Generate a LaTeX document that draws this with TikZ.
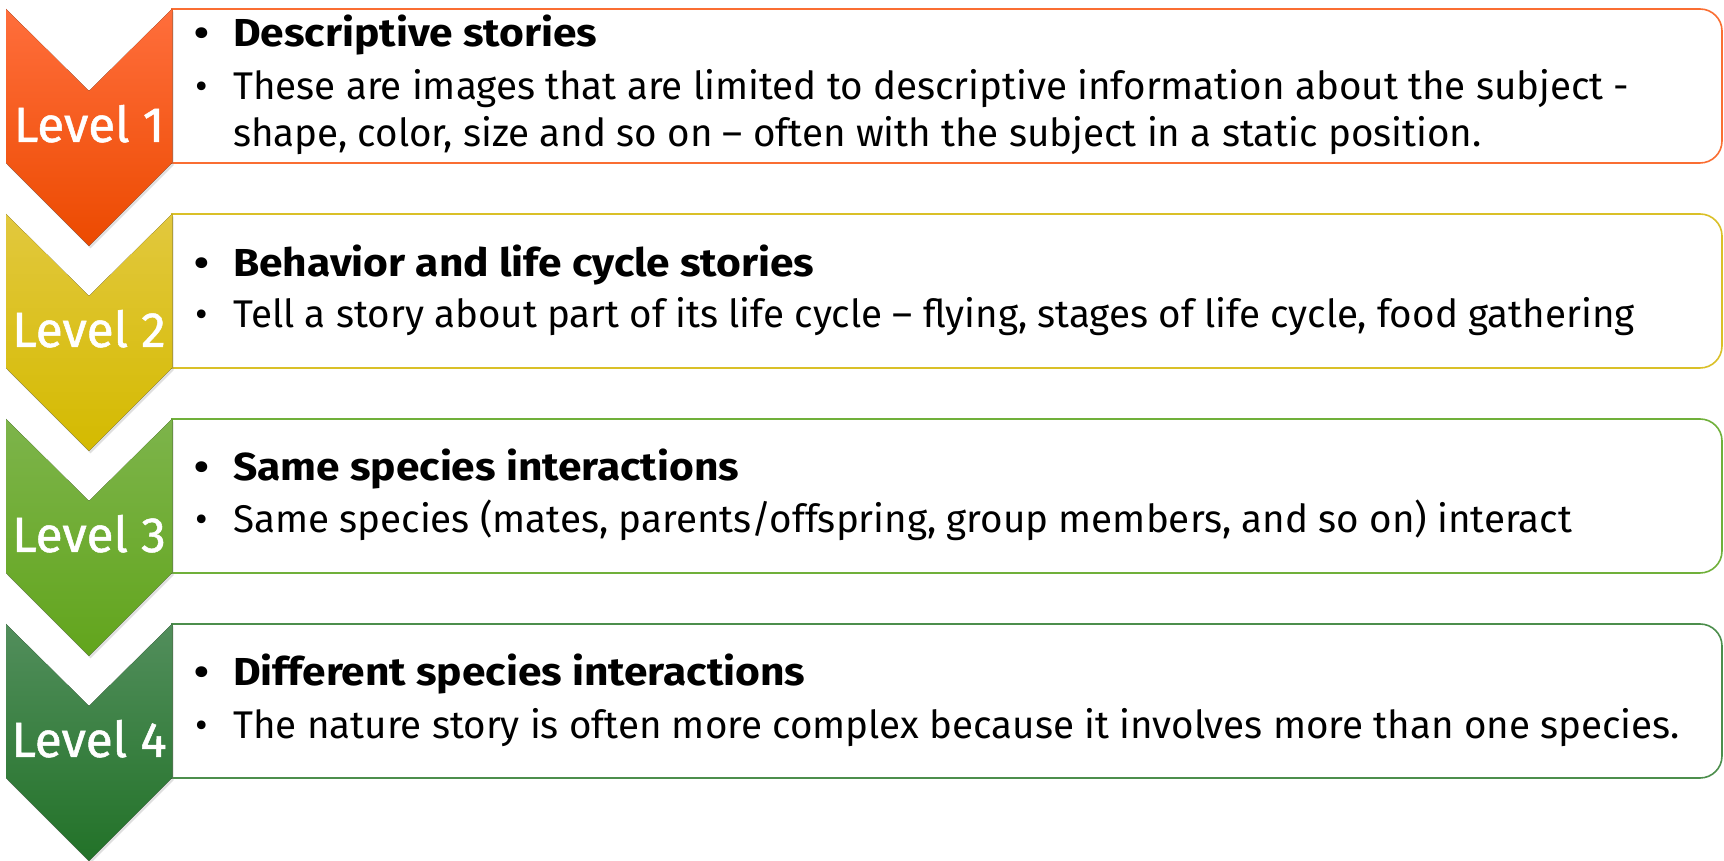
\documentclass[tikz,border=0pt]{standalone}
\usepackage{fontspec}
\setmainfont{Fira Sans}[BoldFeatures={FakeStretch=1.09}]
\newfontfamily\lvlfont{Fira Sans}[FakeBold=1]
\usetikzlibrary{shadows}
\definecolor{orangetop}{RGB}{255,110,60}
\definecolor{orangebot}{RGB}{236,74,0}
\definecolor{orangeline}{RGB}{250,110,50}
\definecolor{yellowtop}{RGB}{226,200,62}
\definecolor{yellowbot}{RGB}{212,186,0}
\definecolor{yellowline}{RGB}{218,192,40}
\definecolor{greentop}{RGB}{125,180,75}
\definecolor{greenbot}{RGB}{98,165,28}
\definecolor{greenline}{RGB}{112,176,58}
\definecolor{darktop}{RGB}{82,142,92}
\definecolor{darkbot}{RGB}{34,114,40}
\definecolor{darkline}{RGB}{76,142,76}
\begin{document}
\begin{tikzpicture}[x=1pt,y=1pt,
	lvl/.style={text=white,font=\lvlfont\fontsize{49.5}{58}\selectfont,inner sep=0pt,anchor=base},
	head/.style={font=\fontsize{39}{46}\selectfont\bfseries,inner sep=0pt,anchor=base west},
	body/.style={font=\fontsize{38.6}{47}\selectfont,inner sep=0pt,anchor=base west},
	chev/.style={drop shadow={shadow xshift=1.5pt,shadow yshift=-2.5pt,opacity=0.25}},
	frame/.style={line width=1.6pt,fill=white}]
	\useasboundingbox (0,0) rectangle (1724,861);
	\def\bul{\makebox[62pt][c]{\textbullet}}
	% Level 1
	\def\ytop{852}
	\draw[frame,draw=orangeline] (172,\ytop) -- (1700,\ytop) arc[start angle=90,end angle=0,radius=22] -- (1722,\ytop-132) arc[start angle=0,end angle=-90,radius=22] -- (172,\ytop-154) -- cycle;
	\fill[chev,top color=orangetop,bottom color=orangebot] (6,\ytop) -- (89,\ytop-82) -- (172,\ytop) -- (172,\ytop-154) -- (89,\ytop-237) -- (6,\ytop-154) -- cycle;
	\node[lvl] (lvl1) at (89,\ytop-133) {Level 1};
	\node[head] (head1) at (171,\ytop-38) {\bul Descriptive stories};
	\node[body] (body1) at (171,\ytop-91) {\bul These are images that are limited to descriptive information about the subject -};
	\node[body] (body1b) at (233,\ytop-138) {shape, color, size and so on -- often with the subject in a static position.};
	% Level 2
	\def\ytop{647}
	\draw[frame,draw=yellowline] (172,\ytop) -- (1700,\ytop) arc[start angle=90,end angle=0,radius=22] -- (1722,\ytop-132) arc[start angle=0,end angle=-90,radius=22] -- (172,\ytop-154) -- cycle;
	\fill[chev,top color=yellowtop,bottom color=yellowbot] (6,\ytop) -- (89,\ytop-82) -- (172,\ytop) -- (172,\ytop-154) -- (89,\ytop-237) -- (6,\ytop-154) -- cycle;
	\node[lvl] (lvl2) at (89,\ytop-133) {Level 2};
	\node[head] (head2) at (171,\ytop-63) {\bul Behavior and life cycle stories};
	\node[body] (body2) at (171,\ytop-114) {\bul Tell a story about part of its life cycle -- flying, stages of life cycle, food gathering};
	% Level 3
	\def\ytop{442}
	\draw[frame,draw=greenline] (172,\ytop) -- (1700,\ytop) arc[start angle=90,end angle=0,radius=22] -- (1722,\ytop-132) arc[start angle=0,end angle=-90,radius=22] -- (172,\ytop-154) -- cycle;
	\fill[chev,top color=greentop,bottom color=greenbot] (6,\ytop) -- (89,\ytop-82) -- (172,\ytop) -- (172,\ytop-154) -- (89,\ytop-237) -- (6,\ytop-154) -- cycle;
	\node[lvl] (lvl3) at (89,\ytop-133) {Level 3};
	\node[head] (head3) at (171,\ytop-62) {\bul Same species interactions};
	\node[body] (body3) at (171,\ytop-114) {\bul Same species (mates, parents/offspring, group members, and so on) interact};
	% Level 4
	\def\ytop{237}
	\draw[frame,draw=darkline] (172,\ytop) -- (1700,\ytop) arc[start angle=90,end angle=0,radius=22] -- (1722,\ytop-132) arc[start angle=0,end angle=-90,radius=22] -- (172,\ytop-154) -- cycle;
	\fill[chev,top color=darktop,bottom color=darkbot] (6,\ytop) -- (89,\ytop-82) -- (172,\ytop) -- (172,\ytop-154) -- (89,\ytop-237) -- (6,\ytop-154) -- cycle;
	\node[lvl] (lvl4) at (89,\ytop-133) {Level 4};
	\node[head] (head4) at (171,\ytop-62) {\bul Different species interactions};
	\node[body] (body4) at (171,\ytop-115) {\bul The nature story is often more complex because it involves more than one species.};
\end{tikzpicture}
\end{document}
